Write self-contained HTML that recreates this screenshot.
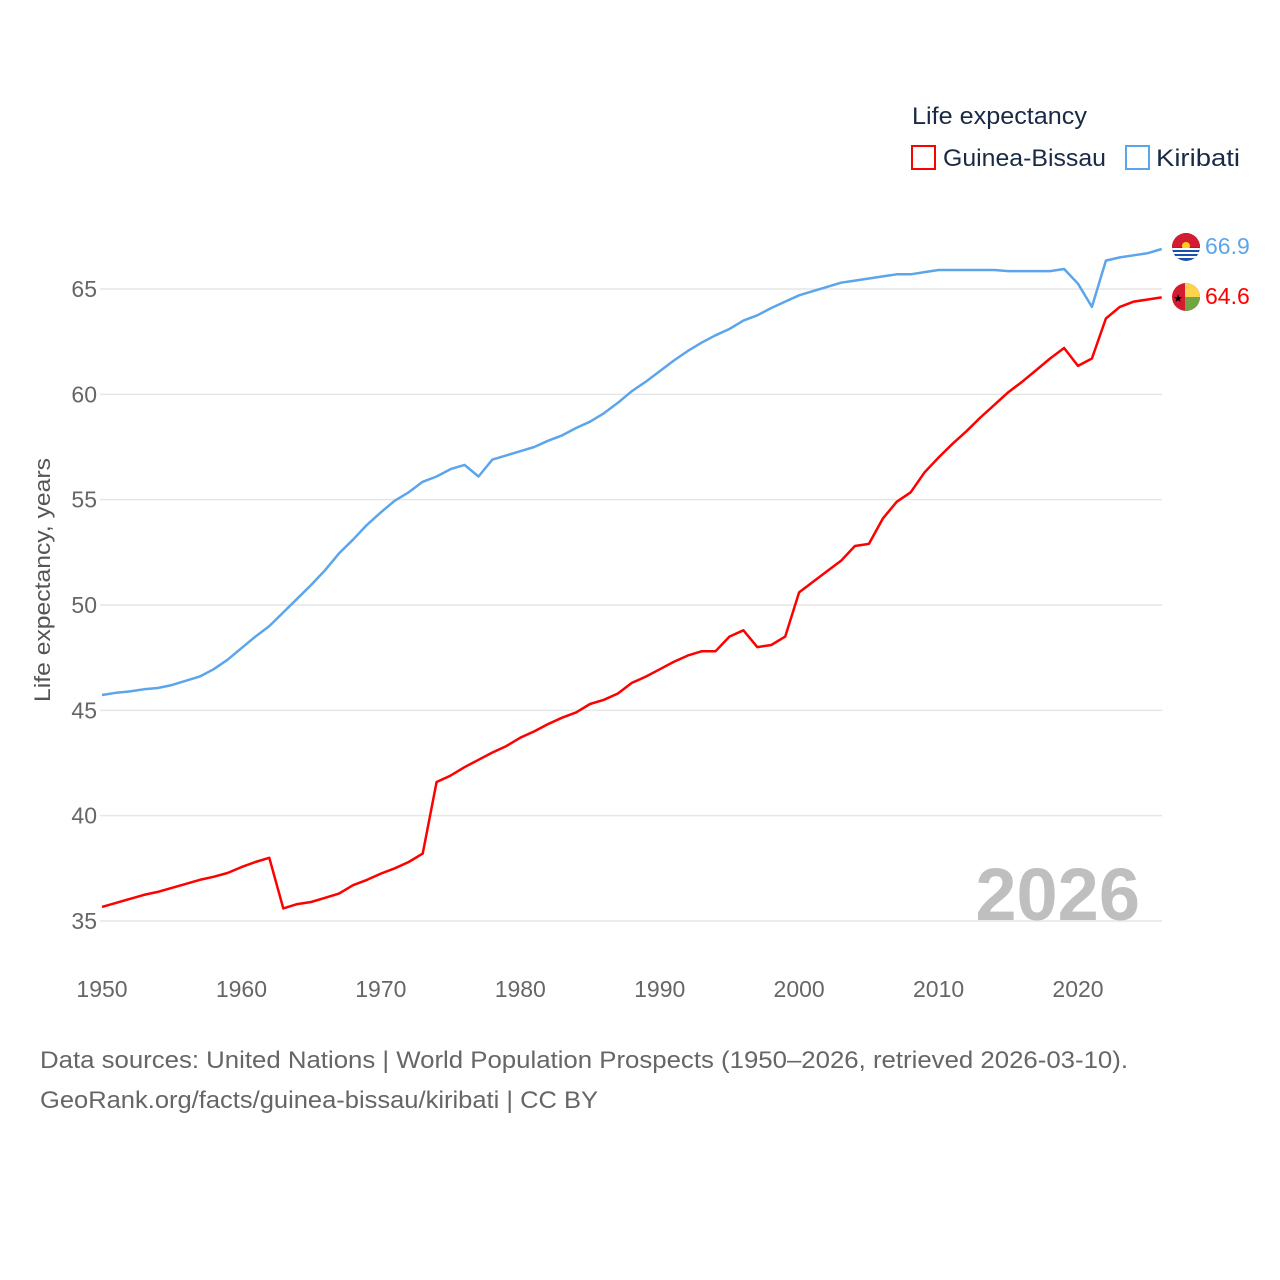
<!DOCTYPE html>
<html><head><meta charset="utf-8"><style>
html,body{margin:0;padding:0;background:#fff;}
svg{display:block;font-family:"Liberation Sans",sans-serif;}
</style></head><body>
<svg width="1280" height="1280" viewBox="0 0 1280 1280" id="chart">
<g id="grid"></g>
<g id="yticks"></g>
<g id="xticks"></g>
<text x="0" y="0" transform="translate(50,580) rotate(-90)" text-anchor="middle" font-size="22" fill="#555" textLength="244" lengthAdjust="spacingAndGlyphs">Life expectancy, years</text>
<text x="1140" y="920" text-anchor="end" font-size="74" font-weight="bold" fill="#bfbfbf">2026</text>
<g id="lines"></g>
<g>
<text x="912" y="124" font-size="24" fill="#1a2a44" textLength="175" lengthAdjust="spacingAndGlyphs">Life expectancy</text>
<rect x="912" y="146" width="23" height="23" fill="none" stroke="#ff0000" stroke-width="2"/>
<text x="943" y="166" font-size="24" fill="#1a2a44" textLength="163" lengthAdjust="spacingAndGlyphs">Guinea-Bissau</text>
<rect x="1126" y="146" width="23" height="23" fill="none" stroke="#5da5eb" stroke-width="2"/>
<text x="1156" y="166" font-size="24" fill="#1a2a44" textLength="84" lengthAdjust="spacingAndGlyphs">Kiribati</text>
</g>
<defs>
<clipPath id="c1"><circle cx="1186" cy="247" r="14"/></clipPath>
<clipPath id="c2"><circle cx="1186" cy="297" r="14"/></clipPath>
</defs>
<g clip-path="url(#c1)">
<rect x="1172" y="233" width="28" height="28" fill="#1a4fae"/>
<rect x="1172" y="233" width="28" height="14" fill="#d51b2f"/>
<circle cx="1186" cy="246" r="4" fill="#fcd116"/>
<rect x="1172" y="248" width="28" height="2" fill="#fff"/>
<rect x="1172" y="252" width="28" height="2" fill="#fff"/>
<rect x="1172" y="256" width="28" height="2" fill="#fff"/>
</g>
<g clip-path="url(#c2)">
<rect x="1172" y="283" width="28" height="28" fill="#d51b2f"/>
<rect x="1185" y="283" width="15" height="14" fill="#fcd34d"/>
<rect x="1185" y="297" width="15" height="14" fill="#6fa545"/>
<text x="1178" y="302" font-size="11" text-anchor="middle" fill="#000">★</text>
</g>
<text id="lab1" x="1205" y="254" font-size="23" fill="#5da5eb">66.9</text>
<text id="lab2" x="1205" y="304" font-size="23" fill="#ff0000">64.6</text>
<text x="40" y="1068" font-size="24" fill="#666" textLength="1088" lengthAdjust="spacingAndGlyphs">Data sources: United Nations | World Population Prospects (1950–2026, retrieved 2026-03-10).</text>
<text x="40" y="1108" font-size="24" fill="#666" textLength="558" lengthAdjust="spacingAndGlyphs">GeoRank.org/facts/guinea-bissau/kiribati | CC BY</text>
</svg>
<script>
const years = [];
for (let y = 1950; y <= 2026; y++) years.push(y);
const guineaBissau = [35.67,35.86,36.05,36.24,36.38,36.57,36.76,36.95,37.1,37.28,37.56,37.8,38.0,35.6,35.8,35.9,36.1,36.3,36.7,36.95,37.25,37.5,37.8,38.2,41.6,41.9,42.3,42.65,43.0,43.3,43.7,44.0,44.35,44.65,44.9,45.3,45.5,45.8,46.3,46.6,46.95,47.3,47.6,47.8,47.8,48.5,48.8,48.0,48.1,48.5,50.6,51.1,51.6,52.1,52.8,52.9,54.1,54.9,55.35,56.3,57.0,57.65,58.25,58.9,59.5,60.1,60.6,61.15,61.7,62.2,61.35,61.7,63.6,64.15,64.4,64.5,64.6];
const kiribati = [45.73,45.83,45.9,46.0,46.06,46.2,46.4,46.6,46.95,47.4,47.95,48.5,49.0,49.65,50.3,50.95,51.65,52.45,53.1,53.8,54.4,54.95,55.35,55.85,56.1,56.45,56.65,56.1,56.9,57.1,57.3,57.5,57.8,58.05,58.4,58.7,59.1,59.6,60.15,60.6,61.1,61.6,62.05,62.45,62.8,63.1,63.5,63.75,64.1,64.4,64.7,64.9,65.1,65.3,65.4,65.5,65.6,65.7,65.7,65.8,65.9,65.9,65.9,65.9,65.9,65.85,65.85,65.85,65.85,65.95,65.25,64.15,66.35,66.5,66.6,66.7,66.9];
const yTicks = [35,40,45,50,55,60,65];
const xTicks = [1950,1960,1970,1980,1990,2000,2010,2020];
const NS = 'http://www.w3.org/2000/svg';
const xs = v => 102 + (v - 1950) * (976 / 70);
const ys = v => 289 + (65 - v) * (632 / 30);
const grid = document.getElementById('grid'), yt = document.getElementById('yticks'), xt = document.getElementById('xticks');
yTicks.forEach(t => {
  const l = document.createElementNS(NS, 'line');
  
  
  l.setAttribute('x1', 100); l.setAttribute('x2', 1162);
  l.setAttribute('y1', ys(t)); l.setAttribute('y2', ys(t));
  l.setAttribute('stroke', '#e6e6e6'); l.setAttribute('stroke-width', '1.5');
  grid.appendChild(l);
  const tx = document.createElementNS(NS, 'text');
  
  
  tx.setAttribute('x', 97); tx.setAttribute('y', ys(t) + 8);
  tx.setAttribute('text-anchor', 'end'); tx.setAttribute('font-size', '23'); tx.setAttribute('fill', '#666');
  tx.textContent = t; yt.appendChild(tx);
});
xTicks.forEach(t => {
  const tx = document.createElementNS(NS, 'text');
  
  
  tx.setAttribute('x', xs(t)); tx.setAttribute('y', 997);
  tx.setAttribute('text-anchor', 'middle'); tx.setAttribute('font-size', '23'); tx.setAttribute('fill', '#666');
  tx.textContent = t; xt.appendChild(tx);
});
function line(vals, color, name) {
  let d = '';
  for (let i = 0; i < vals.length && i < years.length; i++) d += (i ? 'L' : 'M') + xs(years[i]).toFixed(1) + ',' + ys(vals[i]).toFixed(1);
  const p = document.createElementNS(NS, 'path');
  
  
  p.setAttribute('d', d); p.setAttribute('fill', 'none'); p.setAttribute('stroke', color);
  p.setAttribute('stroke-width', '2.5'); p.setAttribute('stroke-linejoin', 'round');
  document.getElementById('lines').appendChild(p);
}
line(kiribati, '#5da5eb', 'kiribati-line');
line(guineaBissau, '#ff0000', 'guinea-bissau-line');
</script>
</body></html>
